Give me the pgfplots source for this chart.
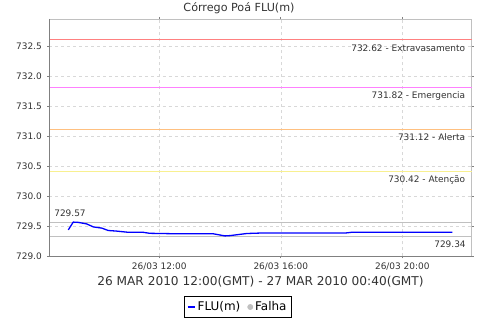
\documentclass[border=0pt]{standalone}
\usepackage{pgfplots}
\pgfplotsset{compat=1.18}
\usepackage{fontspec}
\setmainfont{DejaVu Sans}
\definecolor{gridc}{HTML}{D8D8D8}
\definecolor{frameL}{HTML}{C0C0C0}
\definecolor{frameD}{HTML}{808080}
\definecolor{thr1}{HTML}{FF8080}
\definecolor{thr2}{HTML}{FF80FF}
\definecolor{thr3}{HTML}{FFC080}
\definecolor{thr4}{HTML}{F8F090}
\definecolor{refl}{HTML}{C0C0C0}
\definecolor{txt}{HTML}{333333}
\begin{document}
\begin{tikzpicture}
\path[use as bounding box] (-49.3bp,-63.7bp) rectangle (430.7bp,256.3bp);
\begin{axis}[
  at={(0,0)}, anchor=south west,
  scale only axis, width=422.4bp, height=237.3bp,
  xmin=8.382, xmax=22.283, ymin=729, ymax=732.955,
  xtick={12,16,20},
  xticklabels={26/03 12:00, 26/03 16:00, 26/03 20:00},
  ytick={729,729.5,730,730.5,731,731.5,732,732.5},
  yticklabel style={/pgf/number format/fixed, /pgf/number format/fixed zerofill, /pgf/number format/precision=1, xshift=-2bp},
  /pgf/number format/assume math mode=true,
  tick label style={font=\fontsize{9}{10}\selectfont, text=txt},
  xticklabel style={yshift=-1bp},
  grid=major,
  major grid style={dashed, gridc, line width=0.5bp},
  axis line style={frameL, line width=0.8bp},
  tick align=outside, major tick length=2bp,
  tick style={frameD, line width=0.6bp},
  xlabel={26 MAR 2010 12:00(GMT) - 27 MAR 2010 00:40(GMT)},
  xlabel style={font=\fontsize{12.2}{13}\selectfont, text=txt, at={(axis description cs:0.5,0)}, anchor=center, yshift=-25.4bp},
  legend style={at={(axis description cs:0.446,-0.2137)}, anchor=center, draw=black, line width=0.6bp, font=\fontsize{12}{13}\selectfont, inner xsep=3bp, inner ysep=3bp, /tikz/every even column/.append style={column sep=5bp}},
  legend columns=2,
  legend cell align=left,
  clip=false,
]
% threshold lines
\addplot[forget plot, thr1, line width=1bp] coordinates {(8.382,732.62) (22.283,732.62)};
\addplot[forget plot, thr2, line width=1bp] coordinates {(8.382,731.82) (22.283,731.82)};
\addplot[forget plot, thr3, line width=1bp] coordinates {(8.382,731.12) (22.283,731.12)};
\addplot[forget plot, thr4, line width=1bp] coordinates {(8.382,730.42) (22.283,730.42)};
\addplot[forget plot, refl, line width=0.8bp] coordinates {(8.382,729.57) (22.283,729.57)};
\addplot[forget plot, refl, line width=0.8bp] coordinates {(8.382,729.335) (22.283,729.335)};
% data
\addplot[blue, line width=1.3bp, line join=round,
  legend image code/.code={\draw[blue, line width=1.3bp] (0bp,0bp) -- (7.5bp,0bp);}] coordinates {
(9.007,729.44) (9.17,729.57) (9.34,729.565) (9.61,729.54) (9.83,729.49)
(10.11,729.47) (10.32,729.43) (10.60,729.42) (10.98,729.40) (11.47,729.40)
(11.69,729.383) (12.63,729.375) (13.78,729.375) (14.16,729.34) (14.33,729.345)
(14.88,729.38) (15.48,729.39) (18.16,729.39) (18.33,729.40) (21.65,729.40)
};
\addlegendentry{FLU(m)}
\addlegendimage{legend image code/.code={\fill[refl] (2.6bp,0bp) circle (2.6bp);}}
\addlegendentry{Falha}
% labels
\node[anchor=east, font=\fontsize{9}{10}\selectfont, text=txt] at (axis cs:22.283,732.62) [xshift=-3bp, yshift=-9bp] {732.62 - Extravasamento};
\node[anchor=east, font=\fontsize{9}{10}\selectfont, text=txt] at (axis cs:22.283,731.82) [xshift=-3bp, yshift=-9bp] {731.82 - Emergencia};
\node[anchor=east, font=\fontsize{9}{10}\selectfont, text=txt] at (axis cs:22.283,731.12) [xshift=-3bp, yshift=-8bp] {731.12 - Alerta};
\node[anchor=east, font=\fontsize{9}{10}\selectfont, text=txt] at (axis cs:22.283,730.42) [xshift=-3bp, yshift=-8.7bp] {730.42 - Atenção};
\node[anchor=west, font=\fontsize{9}{10}\selectfont, text=txt] at (axis cs:8.382,729.57) [xshift=1.5bp, yshift=8.7bp] {729.57};
\node[anchor=east, font=\fontsize{9}{10}\selectfont, text=txt] at (axis cs:22.283,729.335) [xshift=-2.5bp, yshift=-7.7bp] {729.34};
% dark left and bottom axis lines
\draw[frameD, line width=0.8bp] (rel axis cs:0,1) -- (rel axis cs:0,0) -- (rel axis cs:1,0);
% title
\node[font=\fontsize{11.2}{12}\selectfont, text=txt] at (rel axis cs:0.5,1) [xshift=-21.5bp, yshift=11bp] {Córrego Poá FLU(m)};
\end{axis}
\end{tikzpicture}
\end{document}
